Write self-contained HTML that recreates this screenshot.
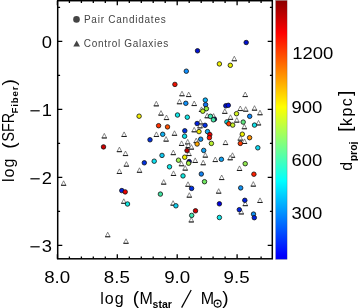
<!DOCTYPE html>
<html><head><meta charset="utf-8"><title>plot</title>
<style>
html,body{margin:0;padding:0;background:#fff;}
body{width:358px;height:308px;overflow:hidden;}
svg{display:block;will-change:transform;}
text{font-family:"Liberation Sans",sans-serif;fill:#000;}
.tk{font-size:16px;}
.lb{font-size:16px;}
.sub{font-size:10.5px;font-weight:bold;}
.sub2{font-size:9.6px;font-weight:bold;letter-spacing:0.9px;}
.pr{font-size:19px;}
.t{fill:#fff;stroke:#4a4a4a;stroke-width:0.65;}
.b{fill:none;stroke:#111;stroke-width:0.9;}
.lg{font-size:10px;fill:#444;}
</style></head><body>
<svg width="358" height="308" viewBox="0 0 358 308">
<defs><linearGradient id="jet" x1="0" y1="0" x2="0" y2="1">
<stop offset="0" stop-color="#8c0000"/>
<stop offset="0.1256" stop-color="#ff0000"/>
<stop offset="0.4115" stop-color="#ffff00"/>
<stop offset="0.6974" stop-color="#00ffff"/>
<stop offset="0.9834" stop-color="#0000ff"/>
<stop offset="1" stop-color="#0000f0"/>
</linearGradient></defs>
<rect x="0" y="0" width="358" height="308" fill="#fff"/>
<rect x="275.7" y="0.5" width="11.4" height="258.8" fill="url(#jet)" stroke="#333" stroke-opacity="0.45" stroke-width="0.5"/>
<path d="M57.4 258.8v-4.6M57.4 0.7v4.6M69.4 258.8v-2.4M69.4 0.7v2.4M81.4 258.8v-2.4M81.4 0.7v2.4M93.3 258.8v-2.4M93.3 0.7v2.4M105.3 258.8v-2.4M105.3 0.7v2.4M117.3 258.8v-4.6M117.3 0.7v4.6M129.3 258.8v-2.4M129.3 0.7v2.4M141.3 258.8v-2.4M141.3 0.7v2.4M153.2 258.8v-2.4M153.2 0.7v2.4M165.2 258.8v-2.4M165.2 0.7v2.4M177.2 258.8v-4.6M177.2 0.7v4.6M189.2 258.8v-2.4M189.2 0.7v2.4M201.2 258.8v-2.4M201.2 0.7v2.4M213.1 258.8v-2.4M213.1 0.7v2.4M225.1 258.8v-2.4M225.1 0.7v2.4M237.1 258.8v-4.6M237.1 0.7v4.6M249.1 258.8v-2.4M249.1 0.7v2.4M261.1 258.8v-2.4M261.1 0.7v2.4M57.7 245.4h4.6M272.3 245.4h-4.6M57.7 211.4h2.4M272.3 211.4h-2.4M57.7 177.4h4.6M272.3 177.4h-4.6M57.7 143.4h2.4M272.3 143.4h-2.4M57.7 109.4h4.6M272.3 109.4h-4.6M57.7 75.4h2.4M272.3 75.4h-2.4M57.7 41.4h4.6M272.3 41.4h-4.6M57.7 7.4h2.4M272.3 7.4h-2.4" stroke="#000" stroke-width="1.3" fill="none"/>
<rect x="57.7" y="0.7" width="214.6" height="258.1" fill="none" stroke="#000" stroke-width="1.5"/>
<g>
<path class="t" d="M102.0 137.9h4.6L104.3 133.4z"/><path class="b" d="M101.7 138.0h5.2"/><path class="t" d="M121.8 136.4h4.6L124.1 131.9z"/><path class="b" d="M121.5 136.5h5.2"/><path class="t" d="M117.1 151.6h4.6L119.4 147.1z"/><path class="b" d="M116.8 151.7h5.2"/><path class="t" d="M123.2 155.5h4.6L125.5 151.0z"/><path class="b" d="M122.9 155.6h5.2"/><path class="t" d="M61.3 185.3h4.6L63.6 180.8z"/><path class="b" d="M61.0 185.3h5.2"/><path class="t" d="M117.1 173.4h4.6L119.4 168.9z"/><path class="b" d="M116.8 173.5h5.2"/><path class="t" d="M124.1 166.2h4.6L126.4 161.7z"/><path class="b" d="M123.8 166.2h5.2"/><path class="t" d="M121.5 203.3h4.6L123.8 198.8z"/><path class="b" d="M121.2 203.3h5.2"/><path class="t" d="M105.4 236.7h4.6L107.7 232.2z"/><path class="b" d="M105.1 236.8h5.2"/><path class="t" d="M123.7 243.3h4.6L126.0 238.8z"/><path class="b" d="M123.4 243.3h5.2"/><path class="t" d="M179.7 95.7h4.6L182.0 91.2z"/><path class="b" d="M179.4 95.8h5.2"/><path class="t" d="M186.4 96.5h4.6L188.7 92.0z"/><path class="b" d="M186.1 96.6h5.2"/><path class="t" d="M177.2 103.7h4.6L179.5 99.2z"/><path class="b" d="M176.9 103.8h5.2"/><path class="t" d="M154.0 105.8h4.6L156.3 101.3z"/><path class="b" d="M153.7 105.9h5.2"/><path class="t" d="M158.7 115.1h4.6L161.0 110.6z"/><path class="b" d="M158.4 115.2h5.2"/><path class="t" d="M164.2 119.5h4.6L166.5 115.0z"/><path class="b" d="M163.9 119.6h5.2"/><path class="t" d="M154.1 136.4h4.6L156.4 131.9z"/><path class="b" d="M153.8 136.5h5.2"/><path class="t" d="M172.2 135.3h4.6L174.5 130.8z"/><path class="b" d="M171.9 135.3h5.2"/><path class="t" d="M163.8 141.1h4.6L166.1 136.6z"/><path class="b" d="M163.5 141.2h5.2"/><path class="t" d="M185.4 143.9h4.6L187.7 139.4z"/><path class="b" d="M185.1 144.0h5.2"/><path class="t" d="M179.3 145.4h4.6L181.6 140.9z"/><path class="b" d="M179.0 145.5h5.2"/><path class="t" d="M185.9 147.4h4.6L188.2 142.9z"/><path class="b" d="M185.6 147.5h5.2"/><path class="t" d="M189.1 149.1h4.6L191.4 144.6z"/><path class="b" d="M188.8 149.2h5.2"/><path class="t" d="M186.6 155.5h4.6L188.9 151.0z"/><path class="b" d="M186.3 155.6h5.2"/><path class="t" d="M171.0 154.6h4.6L173.3 150.1z"/><path class="b" d="M170.7 154.7h5.2"/><path class="t" d="M179.2 165.7h4.6L181.5 161.2z"/><path class="b" d="M178.9 165.8h5.2"/><path class="t" d="M182.9 170.1h4.6L185.2 165.6z"/><path class="b" d="M182.6 170.2h5.2"/><path class="t" d="M137.2 172.3h4.6L139.5 167.8z"/><path class="b" d="M136.9 172.3h5.2"/><path class="t" d="M171.2 175.4h4.6L173.5 170.9z"/><path class="b" d="M170.9 175.5h5.2"/><path class="t" d="M161.4 184.1h4.6L163.7 179.6z"/><path class="b" d="M161.1 184.2h5.2"/><path class="t" d="M185.7 186.3h4.6L188.0 181.8z"/><path class="b" d="M185.4 186.3h5.2"/><path class="t" d="M187.0 197.2h4.6L189.3 192.7z"/><path class="b" d="M186.7 197.2h5.2"/><path class="t" d="M170.8 205.2h4.6L173.1 200.7z"/><path class="b" d="M170.5 205.2h5.2"/><path class="t" d="M189.0 221.9h4.6L191.3 217.4z"/><path class="b" d="M188.7 222.0h5.2"/><path class="t" d="M232.0 60.7h4.6L234.3 56.2z"/><path class="b" d="M231.7 60.8h5.2"/><path class="t" d="M191.9 105.5h4.6L194.2 101.0z"/><path class="b" d="M191.6 105.6h5.2"/><path class="t" d="M199.2 111.4h4.6L201.5 106.9z"/><path class="b" d="M198.9 111.5h5.2"/><path class="t" d="M204.9 117.7h4.6L207.2 113.2z"/><path class="b" d="M204.6 117.8h5.2"/><path class="t" d="M211.3 118.1h4.6L213.6 113.6z"/><path class="b" d="M211.0 118.2h5.2"/><path class="t" d="M222.5 113.3h4.6L224.8 108.8z"/><path class="b" d="M222.2 113.4h5.2"/><path class="t" d="M198.0 123.9h4.6L200.3 119.4z"/><path class="b" d="M197.7 124.0h5.2"/><path class="t" d="M242.9 96.5h4.6L245.2 92.0z"/><path class="b" d="M242.6 96.6h5.2"/><path class="t" d="M238.0 110.5h4.6L240.3 106.0z"/><path class="b" d="M237.7 110.6h5.2"/><path class="t" d="M243.4 111.2h4.6L245.7 106.7z"/><path class="b" d="M243.1 111.2h5.2"/><path class="t" d="M252.2 110.2h4.6L254.5 105.7z"/><path class="b" d="M251.9 110.2h5.2"/><path class="t" d="M257.7 114.7h4.6L260.0 110.2z"/><path class="b" d="M257.4 114.8h5.2"/><path class="t" d="M228.2 119.3h4.6L230.5 114.8z"/><path class="b" d="M227.9 119.4h5.2"/><path class="t" d="M234.5 122.1h4.6L236.8 117.6z"/><path class="b" d="M234.2 122.2h5.2"/><path class="t" d="M242.1 128.7h4.6L244.4 124.2z"/><path class="b" d="M241.8 128.8h5.2"/><path class="t" d="M256.2 124.9h4.6L258.5 120.4z"/><path class="b" d="M255.9 125.0h5.2"/><path class="t" d="M197.7 127.8h4.6L200.0 123.3z"/><path class="b" d="M197.4 127.9h5.2"/><path class="t" d="M191.9 131.8h4.6L194.2 127.3z"/><path class="b" d="M191.6 131.8h5.2"/><path class="t" d="M193.9 142.6h4.6L196.2 138.1z"/><path class="b" d="M193.6 142.7h5.2"/><path class="t" d="M223.2 144.5h4.6L225.5 140.0z"/><path class="b" d="M222.9 144.6h5.2"/><path class="t" d="M238.0 140.1h4.6L240.3 135.6z"/><path class="b" d="M237.7 140.2h5.2"/><path class="t" d="M242.2 143.4h4.6L244.5 138.9z"/><path class="b" d="M241.9 143.5h5.2"/><path class="t" d="M203.0 157.1h4.6L205.3 152.6z"/><path class="b" d="M202.7 157.2h5.2"/><path class="t" d="M192.9 162.4h4.6L195.2 157.9z"/><path class="b" d="M192.6 162.5h5.2"/><path class="t" d="M213.0 161.5h4.6L215.3 157.0z"/><path class="b" d="M212.7 161.6h5.2"/><path class="t" d="M200.9 164.7h4.6L203.2 160.2z"/><path class="b" d="M200.6 164.8h5.2"/><path class="t" d="M230.2 157.3h4.6L232.5 152.8z"/><path class="b" d="M229.9 157.3h5.2"/><path class="t" d="M227.9 159.8h4.6L230.2 155.3z"/><path class="b" d="M227.6 159.8h5.2"/><path class="t" d="M237.2 170.4h4.6L239.5 165.9z"/><path class="b" d="M236.9 170.5h5.2"/><path class="t" d="M219.4 179.5h4.6L221.7 175.0z"/><path class="b" d="M219.1 179.6h5.2"/><path class="t" d="M216.4 193.2h4.6L218.7 188.7z"/><path class="b" d="M216.1 193.2h5.2"/><path class="t" d="M251.0 186.1h4.6L253.3 181.6z"/><path class="b" d="M250.7 186.2h5.2"/><path class="t" d="M257.7 202.4h4.6L260.0 197.9z"/><path class="b" d="M257.4 202.5h5.2"/><path class="t" d="M243.0 205.6h4.6L245.3 201.1z"/><path class="b" d="M242.7 205.7h5.2"/><path class="t" d="M239.0 213.9h4.6L241.3 209.4z"/><path class="b" d="M238.7 214.0h5.2"/>
</g>
<g stroke="#111" stroke-width="0.8">
<circle cx="103.5" cy="146.9" r="2.25" fill="#cc0000"/><circle cx="121.8" cy="190.6" r="2.25" fill="#0020e0"/><circle cx="125.2" cy="191.9" r="2.25" fill="#ee0000"/><circle cx="127.5" cy="204.0" r="2.25" fill="#10e8e0"/><circle cx="186.3" cy="71.2" r="2.25" fill="#1090ff"/><circle cx="174.9" cy="84.4" r="2.25" fill="#ee1000"/><circle cx="185.8" cy="103.3" r="2.25" fill="#1090f8"/><circle cx="139.1" cy="116.2" r="2.25" fill="#f4f000"/><circle cx="177.5" cy="115.0" r="2.25" fill="#10e8e8"/><circle cx="187.3" cy="117.2" r="2.25" fill="#10e8e8"/><circle cx="158.6" cy="125.7" r="2.25" fill="#ff3000"/><circle cx="167.5" cy="126.9" r="2.25" fill="#ff5000"/><circle cx="184.8" cy="130.8" r="2.25" fill="#0030e0"/><circle cx="162.7" cy="134.3" r="2.25" fill="#10b0f0"/><circle cx="184.6" cy="136.2" r="2.25" fill="#10e0e8"/><circle cx="150.0" cy="139.8" r="2.25" fill="#0030e0"/><circle cx="187.0" cy="150.6" r="2.25" fill="#b80000"/><circle cx="162.0" cy="155.4" r="2.25" fill="#10c8f0"/><circle cx="184.7" cy="157.2" r="2.25" fill="#f0f000"/><circle cx="178.5" cy="160.2" r="2.25" fill="#a0f050"/><circle cx="154.2" cy="161.2" r="2.25" fill="#10e0f0"/><circle cx="144.3" cy="162.8" r="2.25" fill="#0030e0"/><circle cx="189.2" cy="161.6" r="2.25" fill="#0000a0"/><circle cx="188.6" cy="163.2" r="2.25" fill="#a8f040"/><circle cx="169.5" cy="166.8" r="2.25" fill="#10e8e8"/><circle cx="183.0" cy="175.9" r="2.25" fill="#10e8e0"/><circle cx="191.6" cy="188.4" r="2.25" fill="#0030e0"/><circle cx="160.4" cy="194.1" r="2.25" fill="#40e0a0"/><circle cx="175.9" cy="205.8" r="2.25" fill="#10d0f0"/><circle cx="195.5" cy="210.8" r="2.25" fill="#d00000"/><circle cx="191.7" cy="215.4" r="2.25" fill="#40e8b0"/><circle cx="246.2" cy="42.5" r="2.25" fill="#0010d0"/><circle cx="197.5" cy="50.8" r="2.25" fill="#0010d0"/><circle cx="219.4" cy="63.9" r="2.25" fill="#f0f000"/><circle cx="230.3" cy="65.3" r="2.25" fill="#e8f000"/><circle cx="205.3" cy="100.1" r="2.25" fill="#08b4fc"/><circle cx="205.6" cy="104.7" r="2.25" fill="#1070f0"/><circle cx="206.4" cy="108.7" r="2.25" fill="#90e840"/><circle cx="202.8" cy="111.2" r="2.25" fill="#c0f020"/><circle cx="210.4" cy="116.3" r="2.25" fill="#40e8b0"/><circle cx="214.4" cy="119.2" r="2.25" fill="#0000a0"/><circle cx="213.4" cy="119.8" r="2.25" fill="#40e8a8"/><circle cx="225.8" cy="105.8" r="2.25" fill="#0010d0"/><circle cx="228.3" cy="105.3" r="2.25" fill="#0010e0"/><circle cx="236.5" cy="113.7" r="2.25" fill="#d0f020"/><circle cx="249.7" cy="116.3" r="2.25" fill="#1088f8"/><circle cx="226.9" cy="121.9" r="2.25" fill="#10e0e8"/><circle cx="228.8" cy="123.8" r="2.25" fill="#ff4000"/><circle cx="232.7" cy="125.1" r="2.25" fill="#c8f028"/><circle cx="243.2" cy="122.1" r="2.25" fill="#60e880"/><circle cx="254.5" cy="125.1" r="2.25" fill="#10e0e8"/><circle cx="197.1" cy="123.5" r="2.25" fill="#0020e0"/><circle cx="205.0" cy="125.3" r="2.25" fill="#0030e8"/><circle cx="199.0" cy="131.6" r="2.25" fill="#f0e800"/><circle cx="207.5" cy="131.6" r="2.25" fill="#10b0f0"/><circle cx="209.8" cy="134.6" r="2.25" fill="#e80000"/><circle cx="209.4" cy="137.7" r="2.25" fill="#ff1000"/><circle cx="200.7" cy="139.2" r="2.25" fill="#1090f0"/><circle cx="197.1" cy="144.0" r="2.25" fill="#ffa800"/><circle cx="211.4" cy="143.4" r="2.25" fill="#b8f030"/><circle cx="203.7" cy="150.4" r="2.25" fill="#10a0f0"/><circle cx="242.3" cy="134.2" r="2.25" fill="#f0f000"/><circle cx="249.6" cy="137.7" r="2.25" fill="#ff9000"/><circle cx="240.3" cy="143.4" r="2.25" fill="#ff3800"/><circle cx="257.8" cy="147.8" r="2.25" fill="#10d8f0"/><circle cx="221.4" cy="159.3" r="2.25" fill="#10a0f0"/><circle cx="245.2" cy="163.7" r="2.25" fill="#90e850"/><circle cx="253.9" cy="174.2" r="2.25" fill="#ff2000"/><circle cx="201.3" cy="174.0" r="2.25" fill="#1080f0"/><circle cx="204.5" cy="181.7" r="2.25" fill="#70e860"/><circle cx="240.7" cy="187.9" r="2.25" fill="#1090f0"/><circle cx="244.8" cy="200.3" r="2.25" fill="#0020e0"/><circle cx="219.4" cy="203.8" r="2.25" fill="#0000e0"/><circle cx="239.3" cy="209.7" r="2.25" fill="#0020e0"/><circle cx="253.5" cy="214.1" r="2.25" fill="#1090f0"/><circle cx="254.3" cy="217.7" r="2.25" fill="#0020e0"/><circle cx="219.4" cy="217.5" r="2.25" fill="#10e8e8"/>
</g>
<circle cx="76.5" cy="19.4" r="3.3" fill="#444"/>
<path d="M73.3 46.6h6.7L76.65 40.5z" fill="#444"/>
<text class="lg" x="83.9" y="23.2" textLength="81.8" lengthAdjust="spacing">Pair Candidates</text>
<text class="lg" x="83.7" y="46.8" textLength="84.5" lengthAdjust="spacing">Control Galaxies</text>
<text class="tk" x="44.2" y="283.4" textLength="26" lengthAdjust="spacingAndGlyphs">8.0</text>
<text class="tk" x="103.8" y="283.4" textLength="26" lengthAdjust="spacingAndGlyphs">8.5</text>
<text class="tk" x="164.2" y="283.4" textLength="26" lengthAdjust="spacingAndGlyphs">9.0</text>
<text class="tk" x="223.6" y="283.4" textLength="26" lengthAdjust="spacingAndGlyphs">9.5</text>
<text class="tk" x="41.8" y="48.2" textLength="10.2" lengthAdjust="spacingAndGlyphs">0</text>
<text class="tk" x="41.8" y="116.2" textLength="10.2" lengthAdjust="spacingAndGlyphs">1</text>
<path d="M30.4 110.8h9.3" stroke="#000" stroke-width="1.2"/>
<text class="tk" x="41.8" y="184.2" textLength="10.2" lengthAdjust="spacingAndGlyphs">2</text>
<path d="M30.4 178.8h9.3" stroke="#000" stroke-width="1.2"/>
<text class="tk" x="41.8" y="252.2" textLength="10.2" lengthAdjust="spacingAndGlyphs">3</text>
<path d="M30.4 246.8h9.3" stroke="#000" stroke-width="1.2"/>
<text class="tk" x="292.3" y="58.5" textLength="41.1" lengthAdjust="spacingAndGlyphs">1200</text>
<text class="tk" x="291.5" y="112.5" textLength="30.8" lengthAdjust="spacingAndGlyphs">900</text>
<text class="tk" x="291.5" y="165.6" textLength="30.8" lengthAdjust="spacingAndGlyphs">600</text>
<text class="tk" x="291.5" y="218.5" textLength="30.8" lengthAdjust="spacingAndGlyphs">300</text>
<text class="lb" x="100.2" y="303.6" style="letter-spacing:1px">log</text>
<text class="pr" x="132.8" y="304.0">(</text>
<text class="lb" x="139.6" y="303.6">M</text>
<text class="sub" x="152.6" y="307.6">star</text>
<path d="M181.6 307.6L191.2 290" stroke="#000" stroke-width="1.25" fill="none"/>
<text class="lb" x="200.7" y="303.6">M</text>
<circle cx="217.6" cy="303.6" r="3.5" fill="none" stroke="#000" stroke-width="1.1"/><circle cx="217.6" cy="303.6" r="1" fill="#000"/>
<text class="pr" x="222.3" y="304.0">)</text>
<g transform="translate(14.4,182) rotate(-90)"><text class="lb" x="0" y="0" style="letter-spacing:1px">log</text><text class="pr" x="33.2" y="0.4">(</text><text class="lb" x="40.5" y="0" textLength="28.5" lengthAdjust="spacingAndGlyphs">SFR</text><text class="sub2" x="68.5" y="3.9">Fiber</text><text class="pr" x="96.6" y="0.4">)</text></g>
<g transform="translate(352,171) rotate(-90)"><text class="lb" x="0.2" y="0">d</text><text class="sub" x="9.7" y="4.6">proj</text><text class="pr" x="39.2" y="-0.8">[</text><text class="lb" x="45.1" y="0" style="letter-spacing:1.4px">kpc</text><text class="pr" x="75.1" y="-0.8">]</text></g>
</svg>
</body></html>
